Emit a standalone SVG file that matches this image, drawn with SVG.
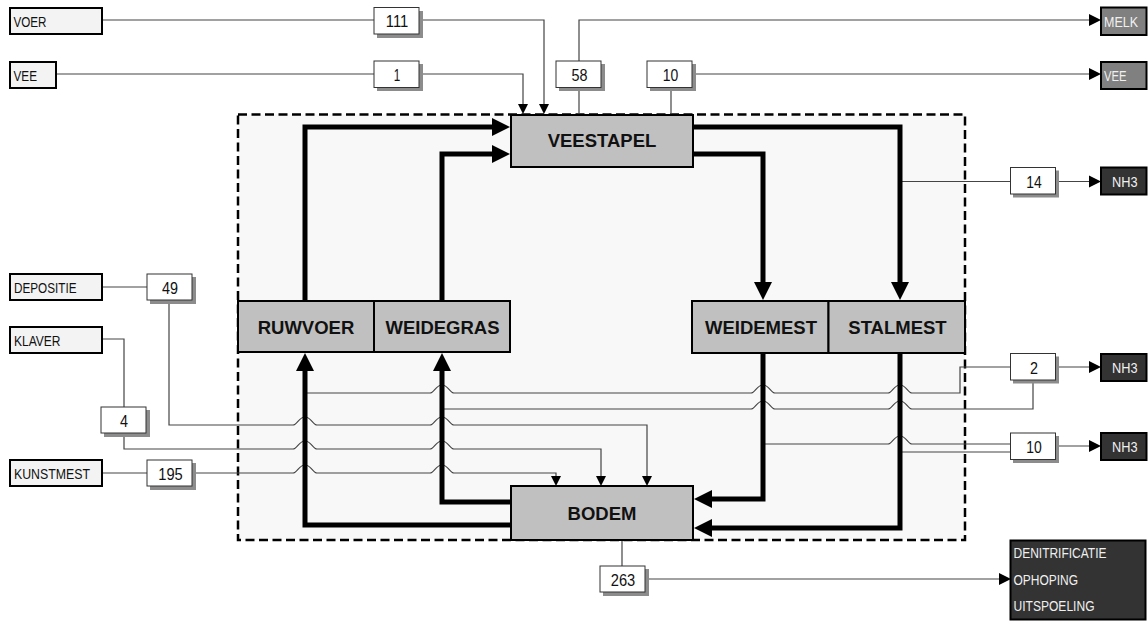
<svg xmlns="http://www.w3.org/2000/svg" width="1148" height="621" viewBox="0 0 1148 621">
<style>
.bg{fill:#ffffff}
.sys{fill:#f8f8f8;stroke:#000;stroke-width:2.5;stroke-dasharray:9,4.5}
.src{fill:#f3f3f3;stroke:#000;stroke-width:2}
.num{fill:#fff;stroke:#333;stroke-width:1}
.shd{fill:#8c8c8c}
.main{fill:#c0c0c0;stroke:#000;stroke-width:2}
.out1{fill:#808080;stroke:#000;stroke-width:2}
.out2{fill:#333333;stroke:#000;stroke-width:2}
.thin{fill:none;stroke:#444;stroke-width:1.2}
.thick{fill:none;stroke:#000;stroke-width:5}
.lbl{font-family:"Liberation Sans",Arial,sans-serif;font-size:15px;fill:#111}
.wl{font-family:"Liberation Sans",Arial,sans-serif;font-size:15px;fill:#f0f0f0}
.n{font-family:"Liberation Sans",Arial,sans-serif;font-size:17px;fill:#111;text-anchor:middle}
.big{font-family:"Liberation Sans",Arial,sans-serif;font-size:18.5px;font-weight:bold;fill:#111;text-anchor:middle}
</style>
<defs>
<marker id="ah" markerWidth="20" markerHeight="20" refX="0" refY="9" orient="auto" markerUnits="userSpaceOnUse" overflow="visible"><path d="M0,0 L18,9 L0,18 z" fill="#000"/></marker>
<marker id="as" markerWidth="12" markerHeight="12" refX="0" refY="5" orient="auto" markerUnits="userSpaceOnUse" overflow="visible"><path d="M0,0 L10,5 L0,10 z" fill="#000"/></marker>
<marker id="am" markerWidth="14" markerHeight="14" refX="0" refY="6" orient="auto" markerUnits="userSpaceOnUse" overflow="visible"><path d="M0,0 L12,6 L0,12 z" fill="#000"/></marker>
</defs>
<rect class="bg" x="0" y="0" width="1148" height="621"/>
<rect id="systeem" class="sys" x="238" y="114.5" width="727" height="425.5"/>

<g id="connectors">
<path class="thin" d="M102,20 H374"/>
<path class="thin" d="M419,20 H544 V104" marker-end="url(#as)"/>
<path class="thin" d="M56,74 H374"/>
<path class="thin" d="M419,74 H523 V104" marker-end="url(#as)"/>
<path class="thin" d="M579,115 V88"/>
<path class="thin" d="M579,61 V20 H1089" marker-end="url(#am)"/>
<path class="thin" d="M671,115 V88"/>
<path class="thin" d="M692,74 H1089" marker-end="url(#am)"/>
<path class="thin" d="M900,181.5 H1010"/>
<path class="thin" d="M1056,181.5 H1089" marker-end="url(#am)"/>
<path class="thin" d="M102,287 H147"/>
<path class="thin" d="M169,300 V425 H293 C297,425 299,417 305,417 C311,417 313,425 317,425 H430 C434,425 436,417 442,417 C448,417 450,425 454,425 H647 V476" marker-end="url(#as)"/>
<path class="thin" d="M102,339 H124 V407"/>
<path class="thin" d="M124,433 V449 H293 C297,449 299,441 305,441 C311,441 313,449 317,449 H430 C434,449 436,441 442,441 C448,441 450,449 454,449 H601 V476" marker-end="url(#as)"/>
<path class="thin" d="M102,473 H147"/>
<path class="thin" d="M192,473 H293 C297,473 299,465 305,465 C311,465 313,473 317,473 H430 C434,473 436,465 442,465 C448,465 450,473 454,473 H556 V476" marker-end="url(#as)"/>
<path class="thin" d="M305,393 H430 C434,393 436,385 442,385 C448,385 450,393 454,393 H751 C755,393 757,385 763,385 C769,385 771,393 775,393 H888 C892,393 894,385 900,385 C906,385 908,393 912,393 H960 V367 H1010"/>
<path class="thin" d="M442,409 H751 C755,409 757,401 763,401 C769,401 771,409 775,409 H888 C892,409 894,401 900,401 C906,401 908,409 912,409 H1033 V380"/>
<path class="thin" d="M1056,367 H1089" marker-end="url(#am)"/>
<path class="thin" d="M763,444 H888 C892,444 894,436 900,436 C906,436 908,444 912,444 H1010"/>
<path class="thin" d="M900,452 H1010"/>
<path class="thin" d="M1056,446 H1089" marker-end="url(#am)"/>
<path class="thin" d="M622,540 V566"/>
<path class="thin" d="M645,579 H999" marker-end="url(#am)"/>
<path class="thick" d="M305,301 V127 H492" marker-end="url(#ah)"/>
<path class="thick" d="M442,301 V154 H492" marker-end="url(#ah)"/>
<path class="thick" d="M693,127 H900 V282" marker-end="url(#ah)"/>
<path class="thick" d="M693,154 H763 V282" marker-end="url(#ah)"/>
<path class="thick" d="M763,353 V499 H712" marker-end="url(#ah)"/>
<path class="thick" d="M900,353 V528 H712" marker-end="url(#ah)"/>
<path class="thick" d="M511,502 H442 V371" marker-end="url(#ah)"/>
<path class="thick" d="M511,525 H305 V371" marker-end="url(#ah)"/>
</g>

<g id="voer"><rect class="src" x="10" y="8" width="92" height="26"/><text class="lbl" x="13.5" y="26.5" textLength="33" lengthAdjust="spacingAndGlyphs">VOER</text></g>
<g id="vee-in"><rect class="src" x="10" y="62" width="46" height="26"/><text class="lbl" x="13.5" y="80.5" textLength="23.5" lengthAdjust="spacingAndGlyphs">VEE</text></g>
<g id="depositie"><rect class="src" x="10" y="274" width="92" height="26"/><text class="lbl" x="14" y="292.5" textLength="62.5" lengthAdjust="spacingAndGlyphs">DEPOSITIE</text></g>
<g id="klaver"><rect class="src" x="10" y="327" width="92" height="26"/><text class="lbl" x="14" y="345.5" textLength="46.5" lengthAdjust="spacingAndGlyphs">KLAVER</text></g>
<g id="kunstmest"><rect class="src" x="10" y="460" width="92" height="26"/><text class="lbl" x="14" y="478.5" textLength="76" lengthAdjust="spacingAndGlyphs">KUNSTMEST</text></g>

<g id="n111"><rect class="shd" x="377" y="11" width="46" height="27"/><rect class="num" x="374" y="7.5" width="45" height="26.5"/><text class="n" x="397" y="27" textLength="22.5" lengthAdjust="spacingAndGlyphs">111</text></g>
<g id="n1"><rect class="shd" x="377" y="64" width="46" height="27"/><rect class="num" x="374" y="61" width="45" height="26.5"/><text class="n" x="397" y="80.5" textLength="6.5" lengthAdjust="spacingAndGlyphs">1</text></g>
<g id="n58"><rect class="shd" x="559" y="64" width="46" height="27"/><rect class="num" x="556" y="61" width="45" height="26.5"/><text class="n" x="579.5" y="80.5" textLength="16" lengthAdjust="spacingAndGlyphs">58</text></g>
<g id="n10a"><rect class="shd" x="650" y="64" width="46" height="27"/><rect class="num" x="647" y="61" width="45" height="26.5"/><text class="n" x="670.5" y="80.5" textLength="15.5" lengthAdjust="spacingAndGlyphs">10</text></g>
<g id="n14"><rect class="shd" x="1013" y="170.5" width="46" height="27"/><rect class="num" x="1010.5" y="167.5" width="45" height="26.5"/><text class="n" x="1034" y="187.5" textLength="15.5" lengthAdjust="spacingAndGlyphs">14</text></g>
<g id="n49"><rect class="shd" x="150" y="277" width="46" height="27"/><rect class="num" x="147" y="274" width="45" height="26"/><text class="n" x="170" y="293.5" textLength="16" lengthAdjust="spacingAndGlyphs">49</text></g>
<g id="n4"><rect class="shd" x="104" y="410" width="46" height="27"/><rect class="num" x="101" y="407" width="45" height="26"/><text class="n" x="124" y="426.5" textLength="8" lengthAdjust="spacingAndGlyphs">4</text></g>
<g id="n195"><rect class="shd" x="150" y="463" width="46" height="27"/><rect class="num" x="147" y="460" width="45" height="26"/><text class="n" x="170.5" y="479.5" textLength="24.5" lengthAdjust="spacingAndGlyphs">195</text></g>
<g id="n2"><rect class="shd" x="1013" y="356.5" width="46" height="27"/><rect class="num" x="1010.5" y="353.5" width="45" height="26.5"/><text class="n" x="1034" y="373.5" textLength="8" lengthAdjust="spacingAndGlyphs">2</text></g>
<g id="n10b"><rect class="shd" x="1013" y="436" width="46" height="27"/><rect class="num" x="1010.5" y="433" width="45" height="26.5"/><text class="n" x="1034" y="453" textLength="15.5" lengthAdjust="spacingAndGlyphs">10</text></g>
<g id="n263"><rect class="shd" x="603" y="569" width="46" height="27"/><rect class="num" x="600" y="566" width="45" height="26"/><text class="n" x="623" y="585.5" textLength="24.5" lengthAdjust="spacingAndGlyphs">263</text></g>

<g id="veestapel"><rect class="main" x="511" y="115" width="182" height="52"/><text class="big" x="602" y="147">VEESTAPEL</text></g>
<g id="ruwvoer"><rect class="main" x="238" y="301" width="136" height="51"/><text class="big" x="306" y="333.5">RUWVOER</text></g>
<g id="weidegras"><rect class="main" x="374" y="301" width="136" height="51"/><text class="big" x="442.5" y="333.5">WEIDEGRAS</text></g>
<g id="weidemest"><rect class="main" x="692" y="301" width="136.5" height="52"/><text class="big" x="761" y="333.5">WEIDEMEST</text></g>
<g id="stalmest"><rect class="main" x="828.5" y="301" width="136.5" height="52"/><text class="big" x="897.5" y="333.5">STALMEST</text></g>
<g id="bodem"><rect class="main" x="511" y="486" width="182" height="54"/><text class="big" x="602" y="519.5">BODEM</text></g>

<g id="melk"><rect class="out1" x="1101" y="7.5" width="45.5" height="27.5"/><text class="wl" x="1104" y="26.5" textLength="34" lengthAdjust="spacingAndGlyphs">MELK</text></g>
<g id="vee-uit"><rect class="out1" x="1101" y="62" width="45.5" height="27"/><text class="wl" x="1104" y="80.5" textLength="22.5" lengthAdjust="spacingAndGlyphs">VEE</text></g>
<g id="nh3-a"><rect class="out2" x="1101" y="167.5" width="45.5" height="27"/><text class="wl" x="1112" y="186.5" textLength="25.5" lengthAdjust="spacingAndGlyphs">NH3</text></g>
<g id="nh3-b"><rect class="out2" x="1101" y="354" width="45.5" height="27"/><text class="wl" x="1112" y="373" textLength="25.5" lengthAdjust="spacingAndGlyphs">NH3</text></g>
<g id="nh3-c"><rect class="out2" x="1101" y="433" width="45.5" height="27"/><text class="wl" x="1112" y="452" textLength="25.5" lengthAdjust="spacingAndGlyphs">NH3</text></g>
<g id="verlies"><rect class="out2" x="1010.5" y="540.5" width="135" height="79"/>
<text class="wl" x="1013.5" y="558" textLength="93" lengthAdjust="spacingAndGlyphs">DENITRIFICATIE</text>
<text class="wl" x="1013.5" y="585" textLength="64.5" lengthAdjust="spacingAndGlyphs">OPHOPING</text>
<text class="wl" x="1013.5" y="611" textLength="81" lengthAdjust="spacingAndGlyphs">UITSPOELING</text></g>
</svg>
